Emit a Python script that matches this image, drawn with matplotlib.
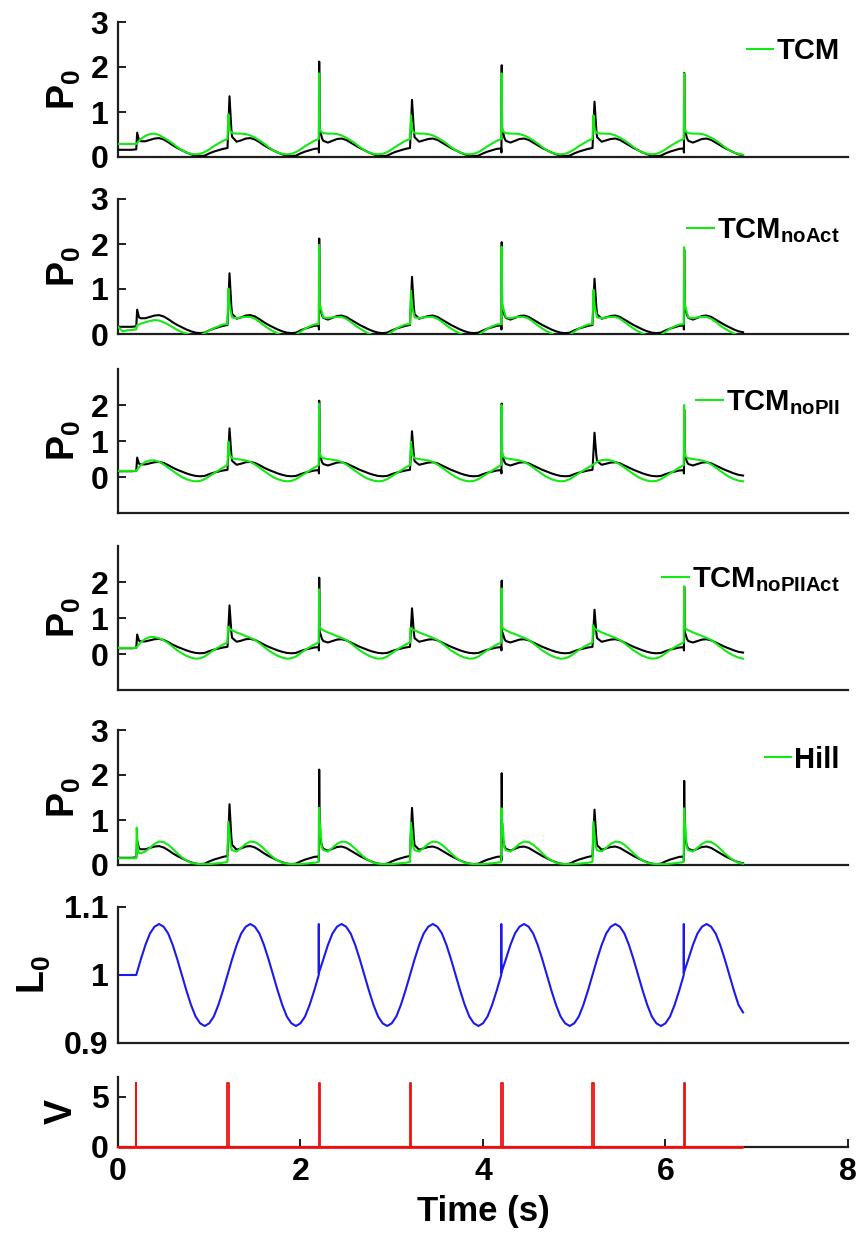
import numpy as np
import matplotlib
matplotlib.use('Agg')
import matplotlib.pyplot as plt
from matplotlib.lines import Line2D

plt.rcParams['font.family'] = ['Liberation Sans', 'DejaVu Sans']
plt.rcParams['font.weight'] = 'bold'
plt.rcParams['axes.labelweight'] = 'bold'
plt.rcParams['mathtext.fontset'] = 'custom'
plt.rcParams['mathtext.bf'] = 'Liberation Sans:bold'
plt.rcParams['mathtext.rm'] = 'Liberation Sans:bold'
plt.rcParams['mathtext.it'] = 'Liberation Sans:bold'
plt.rcParams['mathtext.default'] = 'bf'

# ---------------- data ----------------
# sample times (s) for the smooth parts of each trace
t_grid = np.round(np.arange(0, 6.851, 0.05), 3)

# measured force (black), identical in the five P0 panels
p_data = [0.16, 0.16, 0.16, 0.16,
          0.17, 0.35, 0.35, 0.38, 0.41, 0.42, 0.39, 0.33, 0.26, 0.20, 0.15, 0.10, 0.06, 0.03, 0.02, 0.03, 0.08, 0.12, 0.15, 0.18,
          0.20, 0.45, 0.34, 0.37, 0.41, 0.42, 0.39, 0.33, 0.26, 0.20, 0.15, 0.10, 0.06, 0.03, 0.02, 0.03, 0.08, 0.12, 0.15, 0.18,
          0.19, 0.36, 0.32, 0.36, 0.40, 0.41, 0.38, 0.32, 0.26, 0.20, 0.15, 0.10, 0.06, 0.03, 0.02, 0.03, 0.08, 0.12, 0.15, 0.18,
          0.20, 0.44, 0.34, 0.37, 0.40, 0.41, 0.38, 0.32, 0.26, 0.20, 0.15, 0.10, 0.06, 0.03, 0.02, 0.03, 0.08, 0.12, 0.15, 0.18,
          0.19, 0.36, 0.32, 0.36, 0.40, 0.41, 0.38, 0.32, 0.26, 0.20, 0.15, 0.10, 0.06, 0.03, 0.02, 0.03, 0.08, 0.12, 0.15, 0.18,
          0.20, 0.44, 0.34, 0.37, 0.40, 0.41, 0.38, 0.32, 0.26, 0.20, 0.15, 0.10, 0.06, 0.03, 0.02, 0.03, 0.08, 0.12, 0.15, 0.18,
          0.19, 0.36, 0.32, 0.36, 0.40, 0.41, 0.38, 0.32, 0.26, 0.20, 0.15, 0.10, 0.06, 0.04]
p_data_spk_t = [0.21, 0.22, 0.23,
                1.212, 1.222, 1.232, 1.242,
                2.202, 2.205, 2.209, 2.22, 2.235,
                3.212, 3.222, 3.232, 3.242,
                4.202, 4.205, 4.209, 4.22, 4.235,
                5.212, 5.222, 5.232, 5.242,
                6.202, 6.205, 6.209, 6.22, 6.235]
p_data_spk_v = [0.54, 0.45, 0.37,
                0.80, 1.35, 1.00, 0.62,
                0.10, 2.12, 0.62, 0.55, 0.42,
                0.78, 1.27, 0.95, 0.60,
                0.10, 2.04, 0.62, 0.55, 0.42,
                0.76, 1.23, 0.93, 0.60,
                0.10, 1.87, 0.62, 0.55, 0.42]

# model TCM
p_tcm = [0.29, 0.29, 0.29, 0.29,
         0.29, 0.40, 0.47, 0.51, 0.52, 0.49, 0.43, 0.37, 0.30, 0.22, 0.15, 0.10, 0.07, 0.06, 0.07, 0.11, 0.17, 0.24, 0.30, 0.36,
         0.40, 0.53, 0.52, 0.52, 0.51, 0.48, 0.43, 0.37, 0.30, 0.22, 0.15, 0.10, 0.07, 0.06, 0.07, 0.11, 0.17, 0.24, 0.30, 0.36,
         0.40, 0.53, 0.52, 0.52, 0.51, 0.48, 0.43, 0.37, 0.30, 0.22, 0.15, 0.10, 0.07, 0.06, 0.07, 0.11, 0.17, 0.24, 0.30, 0.36,
         0.40, 0.53, 0.52, 0.52, 0.51, 0.48, 0.43, 0.37, 0.30, 0.22, 0.15, 0.10, 0.07, 0.06, 0.07, 0.11, 0.17, 0.24, 0.30, 0.36,
         0.40, 0.53, 0.52, 0.52, 0.51, 0.48, 0.43, 0.37, 0.30, 0.22, 0.15, 0.10, 0.07, 0.06, 0.07, 0.11, 0.17, 0.24, 0.30, 0.36,
         0.40, 0.53, 0.52, 0.52, 0.51, 0.48, 0.43, 0.37, 0.30, 0.22, 0.15, 0.10, 0.07, 0.06, 0.07, 0.11, 0.17, 0.24, 0.30, 0.36,
         0.40, 0.53, 0.52, 0.52, 0.51, 0.48, 0.43, 0.37, 0.30, 0.22, 0.15, 0.10, 0.07, 0.05]
p_tcm_spk_t = [1.21, 1.225, 2.204, 2.21, 2.225, 3.21, 3.225, 4.204, 4.21, 4.225,
               5.21, 5.225, 6.204, 6.21, 6.225]
p_tcm_spk_v = [0.95, 0.60, 1.86, 0.65, 0.56, 0.93, 0.60, 1.86, 0.65, 0.56,
               0.93, 0.60, 1.86, 0.65, 0.56]

# model TCM_noAct
p_noact = [0.16, 0.06, 0.08, 0.09,
           0.10, 0.23, 0.26, 0.29, 0.31, 0.30, 0.26, 0.21, 0.15, 0.09, 0.04, 0.01, -0.03, -0.05, -0.03, 0.02, 0.08, 0.13, 0.17, 0.21,
           0.22, 0.37, 0.35, 0.37, 0.38, 0.38, 0.34, 0.27, 0.19, 0.12, 0.06, 0.01, -0.04, -0.07, -0.06, -0.02, 0.05, 0.12, 0.17, 0.21,
           0.22, 0.37, 0.35, 0.37, 0.38, 0.38, 0.34, 0.27, 0.19, 0.12, 0.06, 0.01, -0.04, -0.07, -0.06, -0.02, 0.05, 0.12, 0.17, 0.21,
           0.22, 0.37, 0.35, 0.37, 0.38, 0.38, 0.34, 0.27, 0.19, 0.12, 0.06, 0.01, -0.04, -0.07, -0.06, -0.02, 0.05, 0.12, 0.17, 0.21,
           0.22, 0.37, 0.35, 0.37, 0.38, 0.38, 0.34, 0.27, 0.19, 0.12, 0.06, 0.01, -0.04, -0.07, -0.06, -0.02, 0.05, 0.12, 0.17, 0.21,
           0.22, 0.37, 0.35, 0.37, 0.38, 0.38, 0.34, 0.27, 0.19, 0.12, 0.06, 0.01, -0.04, -0.07, -0.06, -0.02, 0.05, 0.12, 0.17, 0.21,
           0.22, 0.37, 0.35, 0.37, 0.38, 0.38, 0.34, 0.27, 0.19, 0.12, 0.06, 0.01, -0.04, -0.07]
p_noact_spk_t = [0.205, 1.21, 1.225, 2.204, 2.21, 2.225, 3.21, 3.225, 4.204, 4.21, 4.225,
                 5.21, 5.225, 6.204, 6.21, 6.225]
p_noact_spk_v = [0.19, 1.01, 0.60, 1.98, 0.70, 0.55, 0.96, 0.60, 1.94, 0.70, 0.55,
                 0.98, 0.60, 1.93, 0.70, 0.55]

# model TCM_noPII
p_nopii = [0.17, 0.17, 0.17, 0.17,
           0.17, 0.33, 0.42, 0.46, 0.46, 0.42, 0.35, 0.26, 0.17, 0.08, 0.00, -0.06, -0.10, -0.12, -0.11, -0.06, 0.02, 0.10, 0.18, 0.26,
           0.33, 0.52, 0.50, 0.48, 0.46, 0.42, 0.35, 0.26, 0.17, 0.08, 0.00, -0.06, -0.10, -0.12, -0.11, -0.06, 0.02, 0.10, 0.18, 0.26,
           0.33, 0.52, 0.50, 0.48, 0.46, 0.42, 0.35, 0.26, 0.17, 0.08, 0.00, -0.06, -0.10, -0.12, -0.11, -0.06, 0.02, 0.10, 0.18, 0.26,
           0.33, 0.52, 0.50, 0.48, 0.46, 0.42, 0.35, 0.26, 0.17, 0.08, 0.00, -0.06, -0.10, -0.12, -0.11, -0.06, 0.02, 0.10, 0.18, 0.26,
           0.33, 0.52, 0.50, 0.48, 0.46, 0.42, 0.35, 0.26, 0.17, 0.08, 0.00, -0.06, -0.10, -0.12, -0.11, -0.06, 0.02, 0.10, 0.18, 0.26,
           0.33, 0.42, 0.47, 0.48, 0.46, 0.42, 0.35, 0.26, 0.17, 0.08, 0.00, -0.06, -0.10, -0.12, -0.11, -0.06, 0.02, 0.10, 0.18, 0.26,
           0.33, 0.52, 0.50, 0.48, 0.46, 0.42, 0.35, 0.26, 0.17, 0.08, 0.00, -0.06, -0.10, -0.12]
p_nopii_spk_t = [1.21, 1.225, 2.204, 2.21, 2.225, 3.21, 3.225, 4.204, 4.21, 4.225,
                 6.204, 6.21, 6.225]
p_nopii_spk_v = [0.98, 0.62, 2.04, 0.70, 0.56, 0.98, 0.62, 2.00, 0.70, 0.56,
                 2.00, 0.70, 0.56]

# model TCM_noPIIAct
p_nopiiact = [0.17, 0.17, 0.17, 0.17,
              0.17, 0.33, 0.42, 0.47, 0.47, 0.44, 0.38, 0.30, 0.20, 0.10, 0.02, -0.05, -0.10, -0.13, -0.12, -0.07, 0.02, 0.11, 0.19, 0.26,
              0.32, 0.66, 0.60, 0.55, 0.50, 0.45, 0.39, 0.30, 0.20, 0.10, 0.02, -0.05, -0.10, -0.13, -0.12, -0.07, 0.02, 0.11, 0.19, 0.26,
              0.32, 0.66, 0.60, 0.55, 0.50, 0.45, 0.39, 0.30, 0.20, 0.10, 0.02, -0.05, -0.10, -0.13, -0.12, -0.07, 0.02, 0.11, 0.19, 0.26,
              0.32, 0.66, 0.60, 0.55, 0.50, 0.45, 0.39, 0.30, 0.20, 0.10, 0.02, -0.05, -0.10, -0.13, -0.12, -0.07, 0.02, 0.11, 0.19, 0.26,
              0.32, 0.66, 0.60, 0.55, 0.50, 0.45, 0.39, 0.30, 0.20, 0.10, 0.02, -0.05, -0.10, -0.13, -0.12, -0.07, 0.02, 0.11, 0.19, 0.26,
              0.32, 0.66, 0.60, 0.55, 0.50, 0.45, 0.39, 0.30, 0.20, 0.10, 0.02, -0.05, -0.10, -0.13, -0.12, -0.07, 0.02, 0.11, 0.19, 0.26,
              0.32, 0.66, 0.60, 0.55, 0.50, 0.45, 0.39, 0.30, 0.20, 0.10, 0.02, -0.05, -0.10, -0.13]
p_nopiiact_spk_t = [1.205, 1.22, 2.204, 2.21, 2.225, 3.205, 3.22, 4.204, 4.21, 4.225,
                    5.205, 5.22, 6.204, 6.21, 6.225]
p_nopiiact_spk_v = [0.76, 0.70, 1.80, 0.75, 0.70, 0.73, 0.69, 1.82, 0.75, 0.70,
                    0.80, 0.72, 1.87, 0.75, 0.70]

# model Hill
p_hill = [0.15, 0.15, 0.15, 0.15,
          0.15, 0.26, 0.30, 0.38, 0.47, 0.52, 0.51, 0.45, 0.36, 0.26, 0.17, 0.10, 0.05, 0.03, 0.02, 0.02, 0.02, 0.03, 0.04, 0.05,
          0.07, 0.33, 0.30, 0.38, 0.47, 0.52, 0.51, 0.45, 0.36, 0.26, 0.17, 0.10, 0.05, 0.03, 0.02, 0.02, 0.02, 0.03, 0.04, 0.05,
          0.07, 0.33, 0.30, 0.38, 0.47, 0.52, 0.51, 0.45, 0.36, 0.26, 0.17, 0.10, 0.05, 0.03, 0.02, 0.02, 0.02, 0.03, 0.04, 0.05,
          0.07, 0.33, 0.30, 0.38, 0.47, 0.52, 0.51, 0.45, 0.36, 0.26, 0.17, 0.10, 0.05, 0.03, 0.02, 0.02, 0.02, 0.03, 0.04, 0.05,
          0.07, 0.33, 0.30, 0.38, 0.47, 0.52, 0.51, 0.45, 0.36, 0.26, 0.17, 0.10, 0.05, 0.03, 0.02, 0.02, 0.02, 0.03, 0.04, 0.05,
          0.07, 0.33, 0.30, 0.38, 0.47, 0.52, 0.51, 0.45, 0.36, 0.26, 0.17, 0.10, 0.05, 0.03, 0.02, 0.02, 0.02, 0.03, 0.04, 0.05,
          0.07, 0.33, 0.30, 0.38, 0.47, 0.52, 0.51, 0.45, 0.36, 0.26, 0.17, 0.10, 0.05, 0.03]
p_hill_spk_t = [0.205, 0.215, 0.225,
                1.204, 1.21, 1.22, 1.235,
                2.203, 2.208, 2.216, 2.232,
                3.204, 3.21, 3.22, 3.235,
                4.203, 4.208, 4.216, 4.232,
                5.204, 5.21, 5.22, 5.235,
                6.203, 6.208, 6.216, 6.232]
p_hill_spk_v = [0.83, 0.45, 0.27,
                0.55, 0.96, 0.75, 0.42,
                1.27, 0.95, 0.92, 0.40,
                0.55, 0.94, 0.75, 0.42,
                1.26, 0.95, 0.92, 0.40,
                0.55, 0.96, 0.75, 0.42,
                1.26, 0.95, 0.92, 0.40]

# muscle length L0 (blue)
l0 = [1.000, 1.000, 1.000, 1.000,
      1.000, 1.023, 1.044, 1.061, 1.071, 1.075, 1.071, 1.061, 1.044, 1.023, 1.000, 0.977, 0.956, 0.939, 0.929, 0.925, 0.929, 0.939, 0.956, 0.977,
      1.000, 1.023, 1.044, 1.061, 1.071, 1.075, 1.071, 1.061, 1.044, 1.023, 1.000, 0.977, 0.956, 0.939, 0.929, 0.925, 0.929, 0.939, 0.956, 0.977,
      1.000, 1.023, 1.044, 1.061, 1.071, 1.075, 1.071, 1.061, 1.044, 1.023, 1.000, 0.977, 0.956, 0.939, 0.929, 0.925, 0.929, 0.939, 0.956, 0.977,
      1.000, 1.023, 1.044, 1.061, 1.071, 1.075, 1.071, 1.061, 1.044, 1.023, 1.000, 0.977, 0.956, 0.939, 0.929, 0.925, 0.929, 0.939, 0.956, 0.977,
      1.000, 1.023, 1.044, 1.061, 1.071, 1.075, 1.071, 1.061, 1.044, 1.023, 1.000, 0.977, 0.956, 0.939, 0.929, 0.925, 0.929, 0.939, 0.956, 0.977,
      1.000, 1.023, 1.044, 1.061, 1.071, 1.075, 1.071, 1.061, 1.044, 1.023, 1.000, 0.977, 0.956, 0.939, 0.929, 0.925, 0.929, 0.939, 0.956, 0.977,
      1.000, 1.023, 1.044, 1.061, 1.071, 1.075, 1.071, 1.061, 1.044, 1.023, 1.000, 0.977, 0.956, 0.945]
l0_spk_t = [2.2005, 2.201, 4.2005, 4.201, 6.2005, 6.201]
l0_spk_v = [1.075, 1.003, 1.075, 1.003, 1.075, 1.003]

# stimulation voltage (red)
v_on = [0.2, 1.2, 2.2, 3.2, 4.2, 5.2, 6.2]
v_off = [0.2005, 1.216, 2.216, 3.216, 4.216, 5.216, 6.216]
v_amp = [6.4, 6.4, 6.4, 6.4, 6.4, 6.4, 6.4]
v_end = 6.85

labels = ['TCM', r'$TCM_{noAct}$', r'$TCM_{noPII}$', r'$TCM_{noPIIAct}$', 'Hill']
models = [(p_tcm, p_tcm_spk_t, p_tcm_spk_v),
          (p_noact, p_noact_spk_t, p_noact_spk_v),
          (p_nopii, p_nopii_spk_t, p_nopii_spk_v),
          (p_nopiiact, p_nopiiact_spk_t, p_nopiiact_spk_v),
          (p_hill, p_hill_spk_t, p_hill_spk_v)]


def merge(tg, vg, te, ve):
    t = np.concatenate([np.asarray(tg, float), np.asarray(te, float)])
    v = np.concatenate([np.asarray(vg, float), np.asarray(ve, float)])
    o = np.argsort(t, kind='stable')
    return t[o], v[o]


# ---------------- figure ----------------
W_PX, H_PX = 862, 1242
fig = plt.figure(figsize=(W_PX / 100, H_PX / 100), dpi=100)
LEFT, RIGHT = 118, 848
AX_COLOR = '#1e1e1e'
TICK_FS = 23
LABEL_FS = 27


def add_axes(top, bot):
    return fig.add_axes([LEFT / W_PX, 1 - bot / H_PX, (RIGHT - LEFT) / W_PX, (bot - top) / H_PX])


def style(ax, ylim, yticks, yticklabels=None, xticks=False):
    ax.set_xlim(0, 8)
    ax.set_ylim(*ylim)
    for s in ['top', 'right']:
        ax.spines[s].set_visible(False)
    for s in ['left', 'bottom']:
        ax.spines[s].set_linewidth(1.6)
        ax.spines[s].set_color(AX_COLOR)
    ax.set_yticks(yticks)
    if yticklabels is not None:
        ax.set_yticklabels(yticklabels)
    ax.tick_params(axis='y', direction='in', length=6, width=1.4, labelsize=TICK_FS,
                   pad=7, color=AX_COLOR, labelcolor='black')
    if xticks:
        ax.set_xticks([0, 2, 4, 6, 8])
        ax.tick_params(axis='x', direction='in', length=6, width=1.4, labelsize=TICK_FS,
                       pad=7, color=AX_COLOR, labelcolor='black')
    else:
        ax.set_xticks([])
    ax.patch.set_visible(False)


panel_px = [(22, 157), (199, 334), (369, 513), (546, 690), (730, 865)]
panel_ylim = [(0, 3), (0, 3), (-1, 3), (-1, 3), (0, 3)]
panel_yticks = [[0, 1, 2, 3], [0, 1, 2, 3], [0, 1, 2], [0, 1, 2], [0, 1, 2, 3]]
legend_top = [0.89, 0.875, 0.865, 0.865, 0.885]

tb, vb = merge(t_grid, p_data, p_data_spk_t, p_data_spk_v)
GREEN = '#12ea12'
for i in range(5):
    ax = add_axes(*panel_px[i])
    style(ax, panel_ylim[i], panel_yticks[i])
    ax.plot(tb, vb, color='black', lw=1.5, zorder=3)
    vals, st, sv = models[i]
    tg, vg = merge(t_grid, vals, st, sv)
    ax.plot(tg, vg, color=GREEN, lw=1.5, zorder=4)
    ax.set_ylabel(r'$P_0$', fontsize=LABEL_FS, labelpad=5)
    h = Line2D([], [], color=GREEN, lw=1.5)
    ax.legend([h], [labels[i]], loc='upper right', bbox_to_anchor=(0.989, legend_top[i]),
              frameon=False, fontsize=21, handlelength=0.9, handletextpad=0.12,
              borderpad=0, borderaxespad=0)

# L0 panel
ax6 = add_axes(907, 1043)
style(ax6, (0.9, 1.1), [0.9, 1.0, 1.1], ['0.9', '1', '1.1'])
tl, vl = merge(t_grid, l0, l0_spk_t, l0_spk_v)
ax6.plot(tl, vl, color='#1a1aee', lw=1.5)
ax6.set_ylabel(r'$L_0$', fontsize=LABEL_FS, labelpad=8)

# V panel
ax7 = add_axes(1077, 1147)
style(ax7, (0, 7), [0, 5], xticks=True)
vx, vy = [0.0], [0.0]
for on, off, a in zip(v_on, v_off, v_amp):
    vx += [on, on, off, off]
    vy += [0.0, a, a, 0.0]
vx.append(v_end)
vy.append(0.0)
ax7.plot(vx, vy, color='#ee1111', lw=1.3, clip_on=False, zorder=5)
ax7.plot([vx[0], vx[-1]], [vy[0], vy[-1]], color='#ee1111', lw=2.0,
         clip_on=False, zorder=5, solid_capstyle='butt')
ax7.set_ylabel('V', fontsize=LABEL_FS, labelpad=8)
ax7.set_xlabel('Time (s)', fontsize=25, labelpad=6)

fig.savefig('out.png', dpi=100)
